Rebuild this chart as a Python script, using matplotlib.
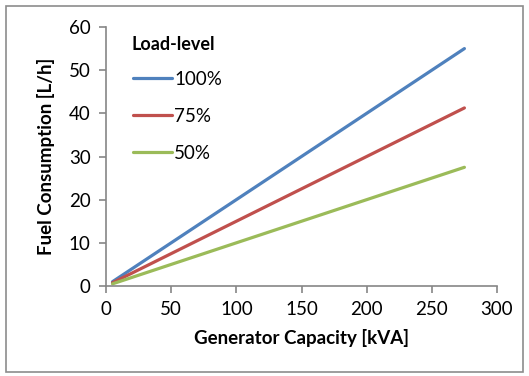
import matplotlib.pyplot as plt
from matplotlib.patches import Rectangle

# generator capacity [kVA] and fuel use [L/h] per load level
capacity = [5, 25, 50, 100, 150, 200, 250, 275]
fuel_100 = [1.0, 5.0, 10.0, 20.0, 30.0, 40.0, 50.0, 55.0]
fuel_75 = [0.75, 3.75, 7.5, 15.0, 22.5, 30.0, 37.5, 41.25]
fuel_50 = [0.5, 2.5, 5.0, 10.0, 15.0, 20.0, 25.0, 27.5]
labels = ['100%', '75%', '50%']
colors = ['#4F81BD', '#C0504D', '#9BBB59']

plt.rcParams['font.family'] = ['Lato', 'DejaVu Sans']
axis_gray = '#868686'

fig = plt.figure(figsize=(5.29, 3.76), dpi=100)
fig.patches.append(Rectangle((6 / 529, 4 / 376), 517 / 529, 366 / 376,
                             transform=fig.transFigure, fill=False,
                             edgecolor='#8c8c8c', linewidth=1.2))
ax = fig.add_axes([106 / 529, 1 - 286 / 376, 391 / 529, 259 / 376])

for y, lab, c in zip([fuel_100, fuel_75, fuel_50], labels, colors):
    ax.plot(capacity, y, color=c, lw=2.3, label=lab, solid_capstyle='round')

ax.set_xlim(0, 300)
ax.set_ylim(0, 60)
ax.set_xticks(range(0, 301, 50))
ax.set_yticks(range(0, 61, 10))

for s in ['top', 'right']:
    ax.spines[s].set_visible(False)
for s in ['left', 'bottom']:
    ax.spines[s].set_color(axis_gray)
    ax.spines[s].set_linewidth(1.2)
ax.tick_params(colors=axis_gray, labelcolor='black', labelsize=13.5,
               length=5, width=1.2, direction='out')
ax.tick_params(axis='x', pad=6)
ax.tick_params(axis='y', pad=6)

ax.set_xlabel('Generator Capacity [kVA]', fontsize=13.5, fontweight='bold', labelpad=8)
ax.set_ylabel('Fuel Consumption [L/h]', fontsize=13.5, fontweight='bold', labelpad=10)

# legend title as its own text, closer to the entries like the Excel original
ax.text(0.065, 0.934, 'Load-level', transform=ax.transAxes,
        fontsize=13, fontweight='bold', va='center')
leg = ax.legend(loc='upper left', bbox_to_anchor=(0.05, 0.861),
                frameon=False, fontsize=13.5, handlelength=2.1, handletextpad=0.1,
                labelspacing=1.08, borderaxespad=0)

fig.savefig('out.png', dpi=100)
